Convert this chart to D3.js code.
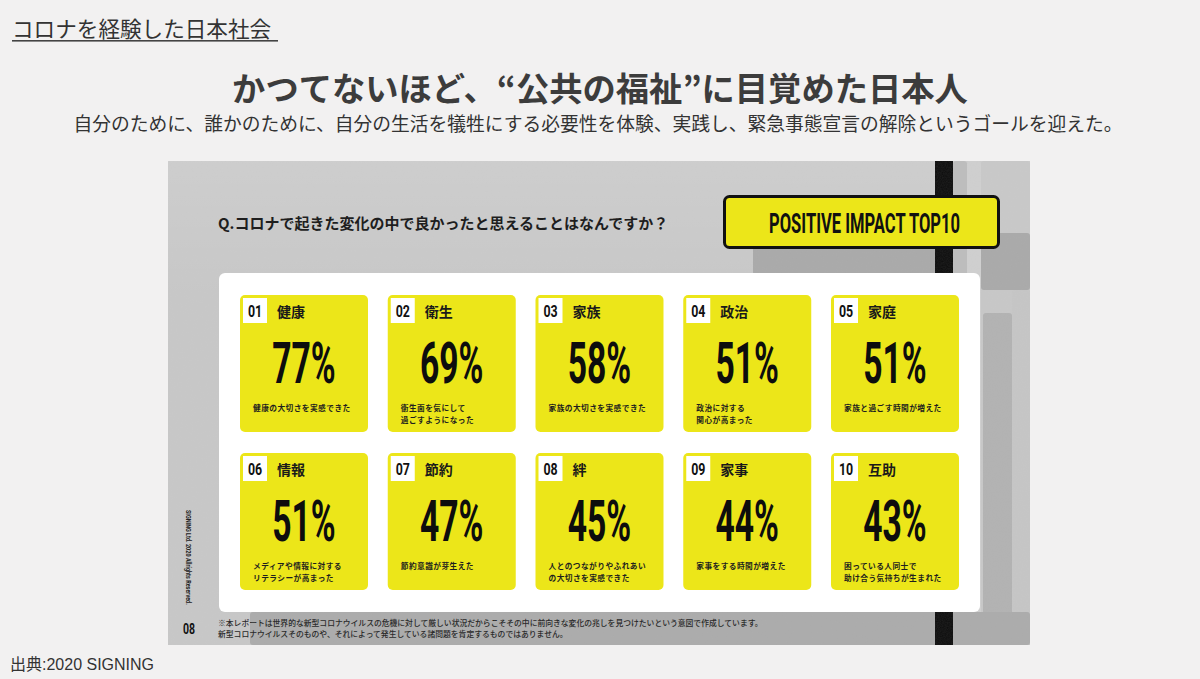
<!DOCTYPE html>
<html>
<head>
<meta charset="utf-8">
<script src="https://cdn.jsdelivr.net/npm/d3@7"></script>
<style>
  html, body { margin: 0; padding: 0; background: #f2f1f1; }
  svg { display: block; }
  .jp { font-family: "Noto Sans CJK JP", "Noto Sans", sans-serif; }
  .src { font-family: "Liberation Sans", "Noto Sans CJK JP", sans-serif; }
  .cond { font-family: Roboto, "DejaVu Sans", sans-serif; font-weight: 700; }
</style>
</head>
<body>
<svg id="chart" width="1200" height="679"></svg>
<script>
// ---------- data ----------
const headerText = "コロナを経験した日本社会";
const titleText = "かつてないほど、“公共の福祉”に目覚めた日本人";
const subtitleText = "自分のために、誰かのために、自分の生活を犠牲にする必要性を体験、実践し、緊急事態宣言の解除というゴールを迎えた。";
const questionText = "Q.コロナで起きた変化の中で良かったと思えることはなんですか？";
const signText = "POSITIVE IMPACT TOP10";
const ranks = ["01","02","03","04","05","06","07","08","09","10"];
const categories = ["健康","衛生","家族","政治","家庭","情報","節約","絆","家事","互助"];
const values = [77, 69, 58, 51, 51, 51, 47, 45, 44, 43];
const descriptions = [
  ["健康の大切さを実感できた"],
  ["衛生面を気にして","過ごすようになった"],
  ["家族の大切さを実感できた"],
  ["政治に対する","関心が高まった"],
  ["家族と過ごす時間が増えた"],
  ["メディアや情報に対する","リテラシーが高まった"],
  ["節約意識が芽生えた"],
  ["人とのつながりやふれあい","の大切さを実感できた"],
  ["家事をする時間が増えた"],
  ["困っている人同士で","助け合う気持ちが生まれた"]
];
const footnotes = [
  "※本レポートは世界的な新型コロナウイルスの危機に対して厳しい状況だからこそその中に前向きな変化の兆しを見つけたいという意図で作成しています。",
  "新型コロナウイルスそのものや、それによって発生している諸問題を肯定するものではありません。"
];
const copyrightText = "SIGNING Ltd. 2020 Allrights Reserved.";
const pageNumber = "08";
const sourceText = "出典:2020 SIGNING";

// ---------- drawing ----------
const svg = d3.select("#chart");
const YELLOW = "#ece619";

// texture filter
const defs = svg.append("defs");
const f = defs.append("filter").attr("id", "noise").attr("x", 0).attr("y", 0).attr("width", "100%").attr("height", "100%");
f.append("feTurbulence").attr("type", "fractalNoise").attr("baseFrequency", 0.8).attr("numOctaves", 2).attr("seed", 3);
f.append("feColorMatrix").attr("type", "matrix")
  .attr("values", "0 0 0 0 0.5  0 0 0 0 0.5  0 0 0 0 0.5  0 0 0 0.12 0");
defs.append("clipPath").attr("id", "panelClip").append("rect")
  .attr("x", 168).attr("y", 161).attr("width", 862).attr("height", 484);
const grad = defs.append("linearGradient").attr("id", "topLight").attr("x1", 0).attr("y1", 0).attr("x2", 0).attr("y2", 1);
grad.append("stop").attr("offset", 0).attr("stop-color", "#ffffff").attr("stop-opacity", 0.12);
grad.append("stop").attr("offset", 1).attr("stop-color", "#ffffff").attr("stop-opacity", 0);

// header
svg.append("text").attr("class", "jp")
  .attr("x", 12).attr("y", 37)
  .attr("font-size", 21.6).attr("fill", "#333")
  .text(headerText);
svg.append("rect").attr("x", 12).attr("y", 40).attr("width", 266).attr("height", 1.6).attr("fill", "#444");

// title + subtitle
svg.append("text").attr("class", "jp")
  .attr("x", 600).attr("y", 101).attr("text-anchor", "middle")
  .attr("font-size", 33.3).attr("font-weight", 700).attr("fill", "#3c3c3c")
  .text(titleText);
svg.append("text").attr("class", "jp")
  .attr("x", 598).attr("y", 131).attr("text-anchor", "middle")
  .attr("font-size", 18.75).attr("fill", "#333")
  .text(subtitleText);

// ---------- poster image ----------
const poster = svg.append("g").attr("clip-path", "url(#panelClip)");
poster.append("rect").attr("x", 168).attr("y", 161).attr("width", 862).attr("height", 484).attr("fill", "#c8c8c8");
poster.append("rect").attr("x", 168).attr("y", 161).attr("width", 862).attr("height", 140).attr("fill", "url(#topLight)");
// background shapes
const shapes = [
  [753, 243, 182, 32, "#a9a9a9"],
  [953, 161, 14, 484, "#bdbdbd"],
  [967, 161, 14, 484, "#d0d0d0"],
  [981, 161, 49, 72, "#c9c9c9"],
  [981, 233, 49, 57, "#a9a9a9"],
  [983, 313, 29, 332, "#b2b2b2"],
  [1012, 290, 18, 355, "#c6c6c6"],
  [250, 612, 780, 33, "#ababab"]
];
poster.selectAll("rect.shape").data(shapes).join("rect").attr("class", "shape")
  .attr("x", d => d[0]).attr("y", d => d[1]).attr("width", d => d[2]).attr("height", d => d[3])
  .attr("rx", 3).attr("fill", d => d[4]);
// black pole
poster.append("rect").attr("x", 935).attr("y", 161).attr("width", 18).attr("height", 484).attr("fill", "#0b0b0b");
// texture overlay
poster.append("rect").attr("x", 168).attr("y", 161).attr("width", 862).attr("height", 484).attr("filter", "url(#noise)");

// question
poster.append("text").attr("class", "jp")
  .attr("x", 218).attr("y", 229)
  .attr("font-size", 15).attr("font-weight", 700).attr("fill", "#1e1e1e")
  .text(questionText);

// sign
poster.append("rect").attr("x", 724.5).attr("y", 196.5).attr("width", 274).attr("height", 51)
  .attr("rx", 5).attr("fill", YELLOW).attr("stroke", "#111").attr("stroke-width", 3);
const signG = poster.append("g");
const signT = signG.append("text").attr("class", "cond")
  .attr("x", 0).attr("y", 0).attr("text-anchor", "middle")
  .attr("font-size", 28).attr("fill", "#111").text(signText);
const signW = signT.node().getComputedTextLength();
signG.attr("transform", `translate(864.5,233) scale(${191 / signW},1)`);

// white panel
poster.append("rect").attr("x", 219).attr("y", 273).attr("width", 761).attr("height", 339)
  .attr("rx", 6).attr("fill", "#ffffff");

// cards
const idx = d3.range(values.length);
const xBand = d3.scaleBand().domain(d3.range(5)).range([240, 959]).paddingInner(0.1337);
const yBand = d3.scaleBand().domain(d3.range(2)).range([295, 590]).paddingInner(0.133);

const cards = poster.selectAll("g.card").data(idx).join("g").attr("class", "card")
  .attr("transform", i => `translate(${xBand(i % 5)},${yBand(Math.floor(i / 5))})`);
const cw = xBand.bandwidth(), ch = yBand.bandwidth();

cards.append("rect").attr("width", cw).attr("height", ch).attr("rx", 5).attr("fill", YELLOW);
cards.append("rect").attr("x", 3).attr("y", 3).attr("width", 24).attr("height", 25).attr("fill", "#fff");
cards.append("g").attr("transform", "translate(15,21.5) scale(0.75,1)")
  .append("text").attr("class", "cond").attr("text-anchor", "middle")
  .attr("font-size", 16.5).attr("fill", "#111").text(i => ranks[i]);
cards.append("text").attr("class", "jp")
  .attr("x", 37).attr("y", 22)
  .attr("font-size", 14).attr("font-weight", 700).attr("fill", "#1a1a1a")
  .text(i => categories[i]);
cards.append("g").attr("transform", `translate(${cw / 2},88) scale(0.58,1)`)
  .append("text").attr("class", "cond").attr("text-anchor", "middle")
  .attr("font-size", 58).attr("font-weight", 900).attr("fill", "#0d0d0d").text(i => values[i] + "%");
cards.each(function(i) {
  d3.select(this).selectAll("text.desc").data(descriptions[i]).join("text").attr("class", "jp desc")
    .attr("x", 13).attr("y", (d, k) => 116 + k * 12)
    .attr("font-size", 7.7).attr("letter-spacing", 0.45).attr("font-weight", 700).attr("fill", "#1e1e1e")
    .text(d => d);
});

// vertical copyright
const cg = poster.append("g");
const ct = cg.append("text").attr("class", "cond").attr("font-size", 8).attr("fill", "#222").text(copyrightText);
const cW = ct.node().getComputedTextLength();
cg.attr("transform", `translate(186,510) rotate(90) scale(${95 / cW},1)`);

// page number
poster.append("g").attr("transform", "translate(189,634) scale(0.75,1)")
  .append("text").attr("class", "cond").attr("text-anchor", "middle")
  .attr("font-size", 14).attr("fill", "#111").text(pageNumber);

// footnotes
poster.selectAll("text.foot").data(footnotes).join("text").attr("class", "jp foot")
  .attr("x", 218).attr("y", (d, k) => 626 + k * 10.5)
  .attr("font-size", 7.8).attr("font-weight", 500).attr("fill", "#2a2a2a")
  .text(d => d);

// source
svg.append("text").attr("class", "src")
  .attr("x", 10).attr("y", 670)
  .attr("font-size", 16).attr("fill", "#333")
  .text(sourceText);
</script>
</body>
</html>
